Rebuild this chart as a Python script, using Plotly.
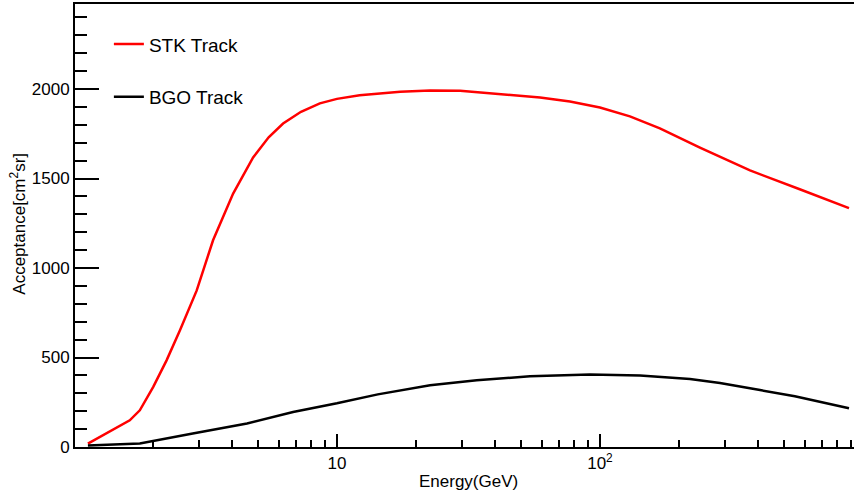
import plotly.graph_objects as go

# STK track acceptance
stk_energy = [1.13, 1.63, 1.78, 2.0, 2.25, 2.53, 2.93, 3.38, 4.03, 4.8, 5.5, 6.24, 7.3, 8.61, 10, 12.2, 17.4, 22.6,
              29.4, 41.7, 59.2, 76.9, 100, 130, 169, 240, 372, 575, 885]
stk_accept = [19, 149, 205, 335, 484, 652, 875, 1155, 1416, 1618, 1730, 1807, 1873, 1920, 1945, 1965, 1985, 1992,
              1990, 1970, 1953, 1930, 1897, 1847, 1780, 1673, 1545, 1440, 1335]

# BGO track acceptance
bgo_energy = [1.13, 1.78, 2.83, 4.55, 6.81, 10, 14.3, 22.6, 34.0, 54.2, 91.6, 142, 220, 286, 406, 551, 885]
bgo_accept = [8, 20, 75, 131, 196, 244, 294, 345, 373, 395, 405, 400, 380, 358, 318, 283, 216]

x_major = [10, 100]
x_major_text = ["10", "10<sup>2</sup>"]
x_minor = [2, 3, 4, 5, 6, 7, 8, 9, 20, 30, 40, 50, 60, 70, 80, 90, 200, 300, 400, 500, 600, 700, 800, 900]
y_major = [0, 500, 1000, 1500, 2000]

FONT = "Liberation Sans, Arial, sans-serif"

fig = go.Figure()
fig.add_trace(go.Scatter(x=stk_energy, y=stk_accept, mode="lines", name="STK Track",
                         legendgroup="a", line=dict(color="#ff0000", width=2.5)))
fig.add_trace(go.Scatter(x=bgo_energy, y=bgo_accept, mode="lines", name="BGO Track",
                         legendgroup="b", line=dict(color="#000000", width=2.5)))

fig.update_layout(
    width=854, height=492,
    margin=dict(l=75, r=0, t=4, b=45, autoexpand=False),
    paper_bgcolor="white", plot_bgcolor="white",
    font=dict(family=FONT, size=17, color="black"),
    showlegend=True,
    legend=dict(x=0.0435, y=0.952, xanchor="left", yanchor="top",
                font=dict(size=19), tracegroupgap=25, bgcolor="rgba(0,0,0,0)"),
    xaxis=dict(
        type="log", range=[0.004, 2.966], automargin=False,
        tickmode="array", tickvals=x_major, ticktext=x_major_text,
        ticks="inside", ticklen=13, tickwidth=1.5, tickcolor="black",
        minor=dict(tickmode="array", tickvals=x_minor, ticks="inside", ticklen=7,
                   tickwidth=1.5, tickcolor="black", showgrid=False),
        showline=True, linecolor="black", linewidth=2, mirror=True,
        showgrid=False, zeroline=False,
    ),
    yaxis=dict(
        range=[0, 2475], automargin=False,
        tickmode="array", tickvals=y_major,
        ticks="inside", ticklen=24, tickwidth=1.5, tickcolor="black",
        minor=dict(dtick=100, tick0=0, ticks="inside", ticklen=12, tickwidth=1.5,
                   tickcolor="black", showgrid=False),
        showline=True, linecolor="black", linewidth=2, mirror=False,
        showgrid=False, zeroline=False,
    ),
    annotations=[
        dict(text="Energy(GeV)", xref="paper", yref="paper", x=0.5045, y=-0.078,
             xanchor="center", yanchor="middle", showarrow=False, font=dict(size=17)),
        dict(text="Acceptance[cm<sup>2</sup>sr]", xref="paper", yref="paper", x=-0.0725, y=0.503,
             xanchor="center", yanchor="middle", textangle=-90, showarrow=False, font=dict(size=17)),
    ],
)

fig.write_html("out.html", config={"displayModeBar": False},
               post_script="document.body.style.margin='0';document.body.style.overflow='hidden';")
